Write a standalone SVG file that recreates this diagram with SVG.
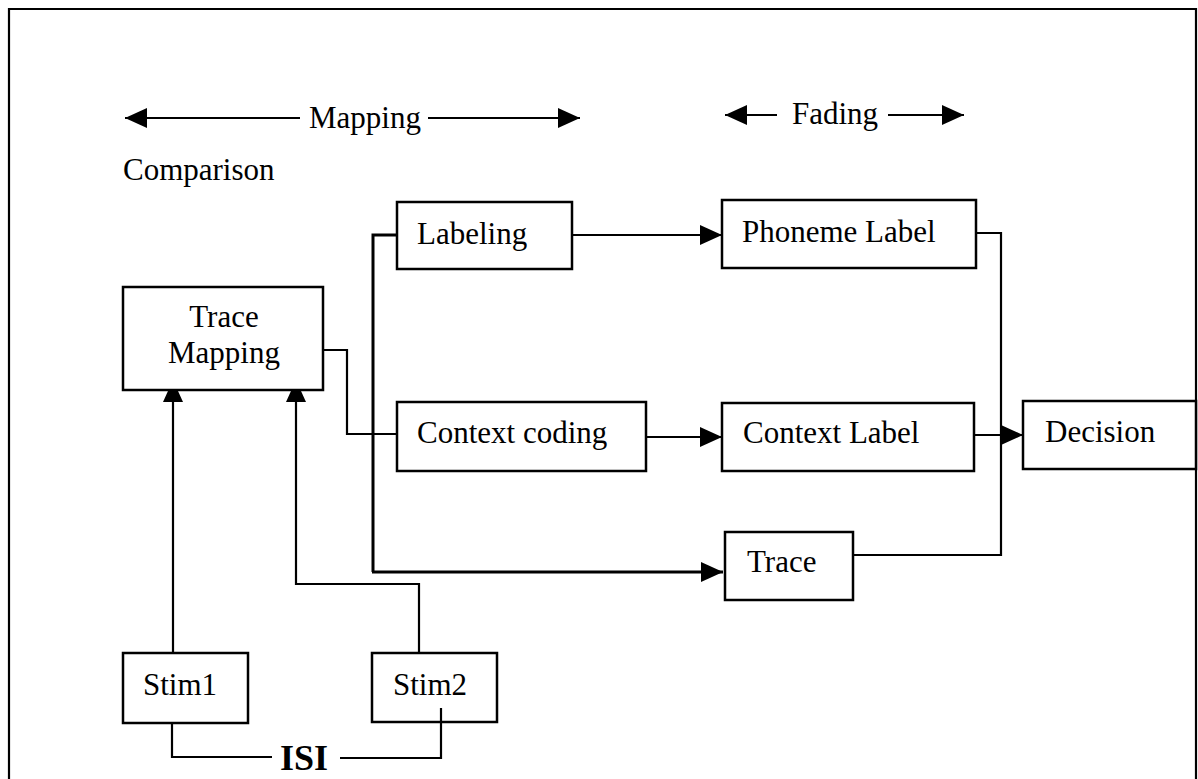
<svg xmlns="http://www.w3.org/2000/svg" width="1198" height="779" viewBox="0 0 1198 779">
  <defs>
    <marker id="arr" markerUnits="userSpaceOnUse" markerWidth="22" markerHeight="20" refX="22" refY="10" orient="auto">
      <path d="M0,0 L22,10 L0,20 Z" fill="#000"/>
    </marker>
    <style>
      .box { fill: #fff; stroke: #000; stroke-width: 2.5; }
      .ln { fill: none; stroke: #000; stroke-width: 2.2; }
      .thick { fill: none; stroke: #000; stroke-width: 3; }
      .t { font-family: "Liberation Serif", "Times New Roman", serif; font-size: 31px; fill: #000; }
      .b { font-family: "Liberation Serif", "Times New Roman", serif; font-size: 36px; font-weight: bold; fill: #000; }
    </style>
  </defs>
  <rect width="1198" height="779" fill="#fff"/>
  <!-- frame -->
  <path d="M9,779 L9,9 L1196,9 L1196,779" class="ln"/>

  <g id="connectors">
    <!-- Mapping / Fading range arrows -->
    <line x1="300" y1="118" x2="125" y2="118" class="ln" marker-end="url(#arr)"/>
    <line x1="428" y1="118" x2="580" y2="118" class="ln" marker-end="url(#arr)"/>
    <line x1="777" y1="115" x2="725" y2="115" class="ln" marker-end="url(#arr)"/>
    <line x1="888" y1="115" x2="964" y2="115" class="ln" marker-end="url(#arr)"/>
    <!-- Trace Mapping -> Context coding -->
    <path d="M323,350 L347,350 L347,434 L397,434" class="ln"/>
    <!-- trunk to Labeling and Trace -->
    <path d="M397,235 L373,235 L373,572" class="thick"/>
    <line x1="372" y1="572" x2="723" y2="572" class="thick" marker-end="url(#arr)"/>
    <!-- Labeling -> Phoneme Label -->
    <line x1="572" y1="235" x2="722" y2="235" class="ln" marker-end="url(#arr)"/>
    <!-- Context coding -> Context Label -->
    <line x1="646" y1="437" x2="722" y2="437" class="ln" marker-end="url(#arr)"/>
    <!-- Phoneme Label / Trace join -->
    <path d="M976,233 L1001,233 L1001,555 L853,555" class="ln"/>
    <!-- Context Label -> Decision -->
    <line x1="974" y1="435" x2="1023" y2="435" class="ln" marker-end="url(#arr)"/>
    <!-- Stim1 -> Trace Mapping -->
    <line x1="173" y1="653" x2="173" y2="380" class="ln" marker-end="url(#arr)"/>
    <!-- Stim2 -> Trace Mapping -->
    <path d="M419,653 L419,584 L296,584 L296,400" class="ln"/>
    <line x1="296" y1="402" x2="296" y2="380" class="ln" marker-end="url(#arr)"/>
    <!-- ISI -->
    <path d="M172,723 L172,757 L272,757" class="ln"/>
    <path d="M340,758 L441,758 L441,708" class="ln"/>
  </g>

  <text class="t" x="309" y="128">Mapping</text>
  <text class="t" x="792" y="124">Fading</text>
  <text class="t" x="123" y="180">Comparison</text>

  <g id="labeling">
    <rect class="box" x="397" y="202" width="175" height="67"/>
    <text class="t" x="417" y="244">Labeling</text>
  </g>
  <g id="phoneme-label">
    <rect class="box" x="722" y="200" width="254" height="68"/>
    <text class="t" x="742" y="242">Phoneme Label</text>
  </g>
  <g id="trace-mapping">
    <rect class="box" x="123" y="287" width="200" height="103"/>
    <text class="t" x="224" y="327" text-anchor="middle">Trace</text>
    <text class="t" x="224" y="363" text-anchor="middle">Mapping</text>
  </g>
  <g id="context-coding">
    <rect class="box" x="397" y="402" width="249" height="69"/>
    <text class="t" x="417" y="443">Context coding</text>
  </g>
  <g id="context-label">
    <rect class="box" x="722" y="403" width="252" height="68"/>
    <text class="t" x="743" y="443">Context Label</text>
  </g>
  <g id="decision">
    <rect class="box" x="1023" y="401" width="173" height="68"/>
    <text class="t" x="1045" y="442">Decision</text>
  </g>
  <g id="trace">
    <rect class="box" x="725" y="532" width="128" height="68"/>
    <text class="t" x="747" y="572">Trace</text>
  </g>
  <g id="stim1">
    <rect class="box" x="123" y="653" width="125" height="70"/>
    <text class="t" x="143" y="695">Stim1</text>
  </g>
  <g id="stim2">
    <rect class="box" x="372" y="653" width="125" height="69"/>
    <text class="t" x="393" y="695">Stim2</text>
  </g>
  <g id="isi-label">
    <text class="b" x="280" y="770">ISI</text>
  </g>
  <!-- re-draw ISI tail inside Stim2 over box fill -->
  <line x1="441" y1="722" x2="441" y2="708" class="ln"/>
</svg>
